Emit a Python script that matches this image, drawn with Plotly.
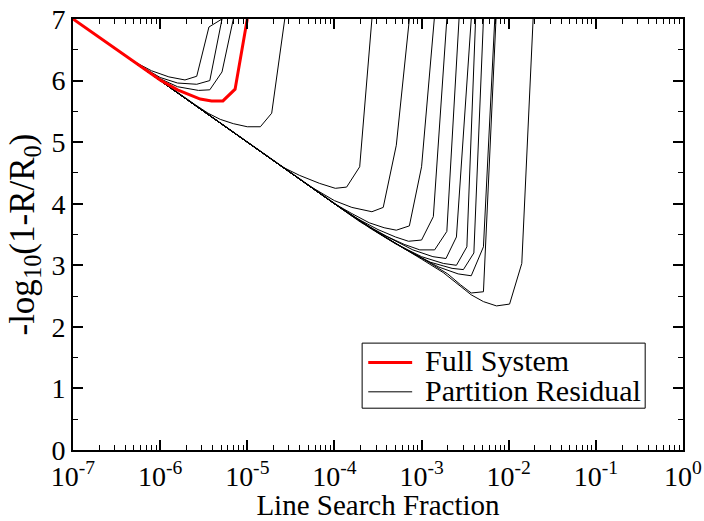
import plotly.graph_objects as go

# shared lower envelope: log10(line search fraction), -log10(1-R/R0)
base_lx = [-7.0, -6.0, -5.0, -4.0, -3.5, -3.25, -3.0, -2.75]
base_y = [7.0, 6.0, 5.0, 4.0, 3.53, 3.32, 3.10, 2.88]

# Full System (red)
full_lx = [-6.5, -6.2, -6.0, -5.8, -5.66, -5.54, -5.41, -5.28, -5.14, -5.0]
full_y = [6.5, 6.2, 6.01, 5.85, 5.77, 5.70, 5.67, 5.67, 5.86, 7.0]

# Partition residuals (black)
pa_lx = [-6.5, -6.3, -6.1, -5.9, -5.715, -5.58, -5.44, -5.29]
pa_y = [6.5, 6.31, 6.16, 6.06, 6.01, 6.07, 6.87, 7.0]
pb_lx = [-6.5, -6.25, -6.0, -5.8, -5.58, -5.43, -5.29]
pb_y = [6.5, 6.26, 6.05, 5.96, 5.94, 6.00, 7.0]
pc_lx = [-6.5, -6.2, -6.0, -5.8, -5.56, -5.43, -5.29, -5.16]
pc_y = [6.5, 6.21, 6.03, 5.90, 5.84, 5.85, 6.14, 7.0]
pd_lx = [-5.8, -5.6, -5.45, -5.31, -5.16, -5.0, -4.85, -4.72, -4.57]
pd_y = [5.80, 5.61, 5.47, 5.37, 5.30, 5.25, 5.25, 5.47, 7.0]
pe_lx = [-4.6, -4.4, -4.17, -3.99, -3.86, -3.71, -3.57]
pe_y = [4.60, 4.46, 4.33, 4.25, 4.27, 4.60, 7.0]
pf_lx = [-4.3, -4.0, -3.8, -3.57, -3.44, -3.29, -3.14]
pf_y = [4.30, 4.05, 3.94, 3.87, 3.94, 4.95, 7.0]
pg_lx = [-4.0, -3.8, -3.6, -3.43, -3.29, -3.14, -3.0, -2.854]
pg_y = [4.00, 3.84, 3.69, 3.61, 3.57, 3.64, 4.60, 7.0]
ph_lx = [-3.9, -3.7, -3.5, -3.3, -3.15, -3.0, -2.865, -2.71]
ph_y = [3.90, 3.73, 3.58, 3.46, 3.39, 3.41, 3.79, 7.0]
pi_lx = [-3.8, -3.6, -3.4, -3.2, -3.02, -2.85, -2.71, -2.57]
pi_y = [3.80, 3.63, 3.47, 3.34, 3.25, 3.25, 3.55, 7.0]
pj_lx = [-3.7, -3.5, -3.3, -3.1, -2.87, -2.72, -2.6, -2.43]
pj_y = [3.70, 3.54, 3.39, 3.25, 3.14, 3.11, 3.46, 7.0]
pk_lx = [-3.6, -3.3, -3.0, -2.75, -2.6, -2.48, -2.38]
pk_y = [3.61, 3.35, 3.14, 3.03, 3.00, 3.30, 7.0]
pl_lx = [-3.5, -3.2, -2.9, -2.65, -2.52, -2.40, -2.29]
pl_y = [3.53, 3.27, 3.05, 2.95, 2.93, 3.20, 7.0]
pm_lx = [-3.4, -3.1, -2.8, -2.58, -2.43, -2.29, -2.16]
pm_y = [3.44, 3.19, 2.97, 2.86, 2.83, 3.30, 7.0]
pp_lx = [-3.3, -3.0, -2.7, -2.55, -2.43, -2.29, -2.146]
pp_y = [3.36, 3.12, 2.86, 2.68, 2.55, 2.57, 7.0]
pn_lx = [-2.75, -2.43, -2.29, -2.14, -1.99, -1.85, -1.72]
pn_y = [2.88, 2.52, 2.41, 2.34, 2.37, 3.03, 7.0]

partitions = [(pa_lx, pa_y), (pb_lx, pb_y), (pc_lx, pc_y), (pd_lx, pd_y),
              (pe_lx, pe_y), (pf_lx, pf_y), (pg_lx, pg_y), (ph_lx, ph_y),
              (pi_lx, pi_y), (pj_lx, pj_y), (pk_lx, pk_y), (pl_lx, pl_y),
              (pm_lx, pm_y), (pp_lx, pp_y), (pn_lx, pn_y)]

x_tick_exp = [-7, -6, -5, -4, -3, -2, -1, 0]
y_ticks = [0, 1, 2, 3, 4, 5, 6, 7]
legend_labels = ["Full System", "Partition Residual"]
legend_colors = ["#ff0000", "black"]
legend_widths = [3, 1]

FONT = "Liberation Serif"


def full_curve(lx, y):
    xs = [10 ** v for v, w in zip(base_lx, base_y) if v < lx[0]]
    ys = [w for v, w in zip(base_lx, base_y) if v < lx[0]]
    return xs + [10 ** v for v in lx], ys + list(y)


fig = go.Figure()
for i, (lx, y) in enumerate(partitions):
    xs, ys = full_curve(lx, y)
    fig.add_trace(go.Scatter(x=xs, y=ys, mode="lines",
                             line=dict(color="black", width=1),
                             name="Partition Residual", showlegend=False))
xs, ys = full_curve(full_lx, full_y)
fig.add_trace(go.Scatter(x=xs, y=ys, mode="lines",
                         line=dict(color="#ff0000", width=3),
                         name="Full System", showlegend=False))

# legend box drawn in paper coordinates
fig.add_shape(type="rect", xref="paper", yref="paper",
              x0=0.474, x1=0.938, y0=0.097, y1=0.248,
              line=dict(color="black", width=1), fillcolor="white", layer="above")
row_y = [0.203, 0.135]
for lab, col, w, ry in zip(legend_labels, legend_colors, legend_widths, row_y):
    fig.add_shape(type="line", xref="paper", yref="paper",
                  x0=0.484, x1=0.556, y0=ry, y1=ry,
                  line=dict(color=col, width=w), layer="above")
    fig.add_annotation(xref="paper", yref="paper", x=0.573, y=ry + 0.004,
                       text=lab, showarrow=False, xanchor="left", yanchor="middle",
                       font=dict(family=FONT, size=30, color="black"))

minor_x = [m * 10 ** e for e in range(-7, 0) for m in range(2, 10)]
minor_y = [v + 0.5 for v in y_ticks[:-1]]

fig.update_layout(
    width=704, height=521,
    margin=dict(l=73, r=21, t=19, b=71),
    paper_bgcolor="white", plot_bgcolor="white",
    font=dict(family=FONT, size=30, color="black"),
    showlegend=False,
    xaxis=dict(type="log", range=[-7, 0], automargin=False,
               tickvals=[10 ** e for e in x_tick_exp],
               ticktext=["10<sup>%d</sup>" % e for e in x_tick_exp],
               ticks="inside", ticklen=10, tickwidth=1.5, tickcolor="black",
               showline=True, linewidth=2, linecolor="black", mirror="allticks",
               showgrid=False, zeroline=False,
               tickfont=dict(family=FONT, size=28),
               minor=dict(tickvals=minor_x, ticks="inside", ticklen=5,
                          tickwidth=1, tickcolor="black", showgrid=False),
               title=dict(text="Line Search Fraction", standoff=5,
                          font=dict(family=FONT, size=29))),
    yaxis=dict(range=[0, 7], tickvals=y_ticks, automargin=False,
               ticks="inside", ticklen=10, tickwidth=1.5, tickcolor="black",
               showline=True, linewidth=2, linecolor="black", mirror="allticks",
               showgrid=False, zeroline=False,
               tickfont=dict(family=FONT, size=28),
               minor=dict(tickvals=minor_y, ticks="inside", ticklen=5,
                          tickwidth=1, tickcolor="black", showgrid=False),
               title=dict(text="-log<sub>10</sub>(1-R/R<sub>0</sub>)", standoff=6,
                          font=dict(family=FONT, size=35))),
)

fig.write_html("out.html")
